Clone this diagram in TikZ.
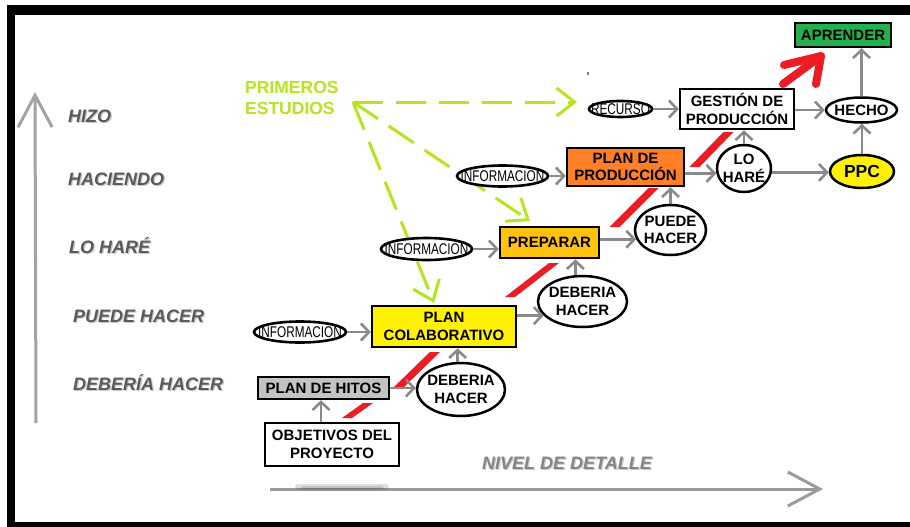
\documentclass[tikz,border=0pt]{standalone}
\usepackage{fontspec}
\usepackage{graphicx}
\setmainfont{Liberation Sans}
\usetikzlibrary{arrows.meta,shapes.geometric}

\definecolor{limeg}{HTML}{B5E61D}
\definecolor{arrowgray}{HTML}{8A8A8A}
\definecolor{axisgray}{HTML}{A3A3A3}
\definecolor{levelgray}{HTML}{5A5A5A}
\definecolor{levelshade}{HTML}{C8C8C8}
\definecolor{detailgray}{HTML}{858585}
\definecolor{redpath}{HTML}{ED1C24}
\definecolor{learngreen}{HTML}{22B14C}
\definecolor{prodorange}{HTML}{FF7F27}
\definecolor{prepgold}{HTML}{FFC20E}
\definecolor{collabyellow}{HTML}{FFF200}
\definecolor{milestonegray}{HTML}{C3C3C3}

\tikzset{
  nbox/.style={draw=black, line width=2.5pt, rectangle, inner sep=0pt, align=center,
    font=\bfseries\fontsize{15}{17.5}\selectfont},
  noval/.style={draw=black, line width=2.5pt, ellipse, inner xsep=-4pt, inner ysep=-2pt,
    align=center, fill=white, font=\bfseries\fontsize{15}{17.5}\selectfont},
  ninfo/.style={draw=black, line width=2.6pt, ellipse, inner xsep=-16pt, inner ysep=-3pt,
    fill=white, font=\fontsize{15.5}{16}\selectfont},
  gflow/.style={draw=arrowgray, line width=2.6pt, -{Straight Barb[length=8pt,width=17pt]}},
  lstudy/.style={draw=limeg, line width=3pt, dash pattern=on 30pt off 13pt,
    -{Straight Barb[length=18pt,width=28pt]}},
  lvltext/.style={anchor=base west, inner sep=0pt, text=levelgray,
    font=\bfseries\itshape\fontsize{18}{20}\selectfont},
  lvlshadow/.style={lvltext, text=levelshade},
  axisline/.style={draw=axisgray, line width=3pt, -{Straight Barb[length=32pt,width=34pt]}},
}
\newcommand{\narrowtxt}[1]{\scalebox{0.76}[1]{#1}}

\begin{document}
\begin{tikzpicture}[x=1pt,y=-1pt]
\useasboundingbox (0,0) rectangle (910,527);
\fill[white] (0,0) rectangle (910,527);

% black frame
\fill[black] (7,5) rectangle (910,15);
\fill[black] (7,5) rectangle (15,527);
\fill[black] (7,522) rectangle (910,527);

% axes
\coordinate (vbot) at (36,423);
\coordinate (vtop) at (35,92);
\draw[axisline] (vbot) -- (vtop);
\coordinate (hstart) at (270,489);
\coordinate (hend) at (823,489);
\draw[axisline, draw=axisgray!95!black] (hstart) -- (hend);
\draw[line width=6pt, black, opacity=0.12, line cap=round] (298,486.5) -- (386,486.5);
\draw[line width=3pt, black, opacity=0.12, line cap=round] (302,487.5) -- (382,487.5);

% level labels
\node[lvlshadow] (s1) at (69.2,123.2) {HIZO};
\node[lvltext] (l1) at (68,122) {HIZO};
\node[lvlshadow] (s2) at (69.2,186.2) {HACIENDO};
\node[lvltext] (l2) at (68,185) {HACIENDO};
\node[lvlshadow] (s3) at (70.2,254.2) {LO HARÉ};
\node[lvltext] (l3) at (69,253) {LO HARÉ};
\node[lvlshadow] (s4) at (74.2,323.2) {PUEDE HACER};
\node[lvltext] (l4) at (73,322) {PUEDE HACER};
\node[lvlshadow] (s5) at (74.2,391.2) {DEBERÍA HACER};
\node[lvltext] (l5) at (73,390) {DEBERÍA HACER};

\node[anchor=base west, inner sep=0pt, text=levelshade, font=\bfseries\itshape\fontsize{18}{20}\selectfont] (nds) at (483.2,470.2) {NIVEL DE DETALLE};
\node[anchor=base west, inner sep=0pt, text=detailgray, font=\bfseries\itshape\fontsize{18}{20}\selectfont] (nd) at (482,469) {NIVEL DE DETALLE};

% red progression path
\fill[redpath] (342,418) -- (352,418) -- (373,403) -- (363,403) -- cycle;
\fill[redpath] (394,387) -- (404,387) -- (440,352) -- (430,352) -- cycle;
\fill[redpath] (505,297) -- (515,297) -- (559,263) -- (549,263) -- cycle;
\fill[redpath] (609.5,227) -- (619.5,227) -- (658.5,188) -- (648.5,188) -- cycle;
\fill[redpath] (689.5,167) -- (699.5,167) -- (733.5,132) -- (723.5,132) -- cycle;
\draw[redpath, line width=8pt, line cap=round, line join=round] (783,84) -- (821,56);
\draw[redpath, line width=8pt, line cap=round, line join=round] (784,65) -- (821,56) -- (816,84);

% first studies
\node[anchor=west, inner sep=0pt, align=left, text=limeg,
  font=\bfseries\fontsize{17.5}{21}\selectfont] (pe) at (245,98) {PRIMEROS\\ESTUDIOS};
\coordinate (ps) at (353,102);
\coordinate (tr) at (577,102);
\coordinate (tp) at (530,221);
\coordinate (tc) at (434,303);
\draw[lstudy] (ps) -- (tr);
\draw[lstudy] (ps) -- (tp);
\draw[lstudy] (ps) -- (tc);

\fill[gray] (586.5,72.5) rectangle (589,75);

% boxes
\node[nbox, fill=learngreen, minimum width=96pt, minimum height=24pt] (apr) at (843,35) {APRENDER};
\node[nbox, fill=white, minimum width=114pt, minimum height=40pt] (gest) at (737,109) {GESTIÓN DE\\PRODUCCIÓN};
\node[nbox, fill=prodorange, minimum width=117pt, minimum height=38pt] (pp) at (625.5,167) {PLAN DE\\PRODUCCIÓN};
\node[nbox, fill=prepgold, minimum width=99pt, minimum height=31pt] (prep) at (549.5,242.5) {PREPARAR};
\node[nbox, fill=collabyellow, minimum width=144pt, minimum height=41pt] (pc) at (444,326.5) {PLAN\\COLABORATIVO};
\node[nbox, fill=milestonegray, minimum width=131pt, minimum height=22pt] (hitos) at (323.5,388) {PLAN DE HITOS};
\node[nbox, fill=white, minimum width=134pt, minimum height=43pt] (obj) at (332,444.5) {OBJETIVOS DEL\\PROYECTO};

% ovals
\node[ninfo, minimum width=63pt, minimum height=16pt] (rec) at (620.5,109) {\narrowtxt{RECURSO}};
\node[noval, minimum width=71pt, minimum height=25pt] (hecho) at (861.5,110) {HECHO};
\node[noval, fill=collabyellow, minimum width=64pt, minimum height=33pt,
  font=\bfseries\fontsize{17.5}{20}\selectfont] (ppc) at (862,171.5) {PPC};
\node[noval, minimum width=54pt, minimum height=47pt] (lohare) at (744,168.5) {LO\\HARÉ};
\node[noval, minimum width=71pt, minimum height=50pt] (puede) at (670.5,230) {PUEDE\\HACER};
\node[ninfo, minimum width=91pt, minimum height=21pt] (info3) at (502.5,176) {\narrowtxt{INFORMACION}};
\node[ninfo, minimum width=91pt, minimum height=22pt] (info2) at (426.5,249) {\narrowtxt{INFORMACION}};
\node[ninfo, minimum width=92pt, minimum height=21pt] (info1) at (300,332) {\narrowtxt{INFORMACION}};
\node[noval, minimum width=89pt, minimum height=51pt] (deb2) at (582.5,301.5) {DEBERIA\\HACER};
\node[noval, minimum width=88pt, minimum height=53pt] (deb1) at (461,389.5) {DEBERIA\\HACER};

% flow connectors
\draw[gflow] (obj.north -| 321,0) -- (hitos.south -| 321,0);
\draw[gflow] (hitos.east) -- (deb1.west |- hitos.east);
\draw[gflow] (deb1.97) -- (pc.south -| deb1.97);
\draw[gflow] (info1.east) -- (pc.west |- info1.east);
\draw[gflow] (pc.east |- deb2.200) -- (deb2.200);
\draw[gflow] (deb2.105) -- (prep.south -| deb2.105);
\draw[gflow] (info2.east) -- (prep.west |- info2.east);
\draw[gflow] (prep.east |- puede.195) -- (puede.195);
\draw[gflow] (puede.north) -- (pp.south -| puede.north);
\draw[gflow] (info3.east) -- (pp.west |- info3.east);
\draw[gflow] (pp.east |- lohare.190) -- (lohare.190);
\draw[gflow] (lohare.north) -- (gest.south -| lohare.north);
\draw[gflow] (lohare.-8) -- (ppc.west |- lohare.-8);
\draw[gflow] (rec.east) -- (gest.west |- rec.east);
\draw[gflow] (gest.east |- hecho.west) -- (hecho.west);
\draw[gflow] (ppc.north) -- (hecho.south -| ppc.north);
\draw[gflow] (hecho.north) -- (apr.south -| hecho.north);
\end{tikzpicture}
\end{document}
